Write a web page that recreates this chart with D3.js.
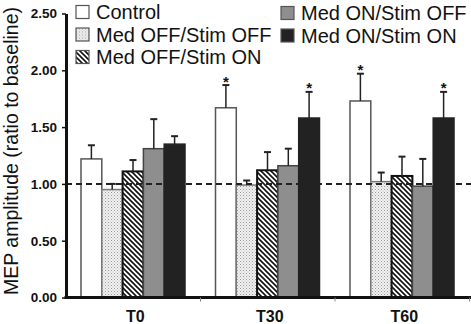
<!DOCTYPE html>
<html lang="en">
<head>
  <meta charset="UTF-8">
  <title>MEP amplitude</title>
  <script src="https://d3js.org/d3.v7.min.js"></script>
  <style>
    body { margin: 0; background: #fff; }
    svg { display: block; font-family: "Liberation Sans", Arial, sans-serif; }
  </style>
</head>
<body>
  <script>
    const categories = ["T0", "T30", "T60"];
    const series = ["Control", "Med OFF/Stim OFF", "Med OFF/Stim ON", "Med ON/Stim OFF", "Med ON/Stim ON"];
    // mean values per series, in category order
    const control      = [1.22, 1.67, 1.73];
    const offOff       = [0.95, 0.99, 1.02];
    const offOn        = [1.11, 1.12, 1.07];
    const onOff        = [1.31, 1.16, 0.98];
    const onOn         = [1.35, 1.58, 1.58];
    // error (upper SEM) per series
    const controlErr   = [0.12, 0.20, 0.24];
    const offOffErr    = [0.05, 0.04, 0.08];
    const offOnErr     = [0.10, 0.16, 0.17];
    const onOffErr     = [0.26, 0.15, 0.24];
    const onOnErr      = [0.07, 0.23, 0.23];
    // significance stars
    const stars = [["T30", "Control"], ["T30", "Med ON/Stim ON"], ["T60", "Control"], ["T60", "Med ON/Stim ON"]];
    const yTicks = [0, 0.5, 1, 1.5, 2, 2.5];
    const baseline = 1.0;

    const values = [control, offOff, offOn, onOff, onOn];
    const errors = [controlErr, offOffErr, offOnErr, onOffErr, onOnErr];
    const rows = [];
    series.forEach((s, i) => categories.forEach((c, j) => {
      rows.push({ cat: c, series: s, value: values[i][j], err: errors[i][j] });
    }));

    const width = 471, height = 324;
    const svg = d3.select("body").append("svg")
      .attr("width", width).attr("height", height);

    const defs = svg.append("defs");
    const dots = defs.append("pattern").attr("id", "dots")
      .attr("patternUnits", "userSpaceOnUse").attr("width", 3).attr("height", 3);
    dots.append("rect").attr("width", 3).attr("height", 3).attr("fill", "#f2f2f2");
    dots.append("rect").attr("width", 1).attr("height", 1).attr("fill", "#9a9a9a");
    dots.append("rect").attr("x", 1.5).attr("y", 1.5).attr("width", 1).attr("height", 1).attr("fill", "#b5b5b5");

    const hatch = defs.append("pattern").attr("id", "hatch")
      .attr("patternUnits", "userSpaceOnUse").attr("width", 5).attr("height", 5);
    hatch.append("rect").attr("width", 5).attr("height", 5).attr("fill", "#fff");
    hatch.append("path").attr("d", "M0,0L5,5M-1,4L1,6M4,-1L6,1")
      .attr("stroke", "#111").attr("stroke-width", 1.6);

    const fills = {
      "Control": "#fff",
      "Med OFF/Stim OFF": "url(#dots)",
      "Med OFF/Stim ON": "url(#hatch)",
      "Med ON/Stim OFF": "#8e8e8e",
      "Med ON/Stim ON": "#222"
    };
    const strokes = {
      "Control": "#555",
      "Med OFF/Stim OFF": "#777",
      "Med OFF/Stim ON": "#111",
      "Med ON/Stim OFF": "#444",
      "Med ON/Stim ON": "#222"
    };

    const x0 = d3.scaleBand().domain(categories).range([66, 469.5]);
    const x1 = d3.scaleBand().domain(series).range([15, x0.bandwidth() - 15.5]);
    const y = d3.scaleLinear().domain([0, 2.5]).range([297.5, 13.5]);

    // bars
    svg.append("g").selectAll("rect")
      .data(rows)
      .join("rect")
      .attr("x", d => x0(d.cat) + x1(d.series))
      .attr("y", d => y(d.value))
      .attr("width", x1.bandwidth())
      .attr("height", d => y(0) - y(d.value))
      .attr("fill", d => fills[d.series])
      .attr("stroke", d => strokes[d.series])
      .attr("stroke-width", d => d.series === "Med OFF/Stim ON" ? 2 : 1.5);

    // error bars
    const eb = svg.append("g").attr("stroke", "#222");
    eb.selectAll("line.v")
      .data(rows)
      .join("line").attr("class", "v")
      .attr("x1", d => x0(d.cat) + x1(d.series) + x1.bandwidth() / 2)
      .attr("x2", d => x0(d.cat) + x1(d.series) + x1.bandwidth() / 2)
      .attr("y1", d => y(d.value))
      .attr("y2", d => y(d.value + d.err))
      .attr("stroke-width", 1.5);
    eb.selectAll("line.cap")
      .data(rows)
      .join("line").attr("class", "cap")
      .attr("x1", d => x0(d.cat) + x1(d.series) + x1.bandwidth() / 2 - 3.5)
      .attr("x2", d => x0(d.cat) + x1(d.series) + x1.bandwidth() / 2 + 3.5)
      .attr("y1", d => y(d.value + d.err))
      .attr("y2", d => y(d.value + d.err))
      .attr("stroke-width", 2);

    // stars
    svg.append("g").selectAll("text")
      .data(stars.map(([c, s]) => rows.find(r => r.cat === c && r.series === s)))
      .join("text")
      .attr("x", d => x0(d.cat) + x1(d.series) + x1.bandwidth() / 2)
      .attr("y", d => y(d.value + d.err) + 1.5)
      .attr("text-anchor", "middle")
      .attr("font-size", 15)
      .attr("font-weight", "bold")
      .attr("fill", "#111")
      .text("*");

    // dashed baseline
    svg.append("line")
      .attr("x1", 66).attr("x2", width)
      .attr("y1", y(baseline)).attr("y2", y(baseline))
      .attr("stroke", "#222").attr("stroke-width", 2)
      .attr("stroke-dasharray", "6,4");

    // y axis
    const yAxis = svg.append("g")
      .attr("transform", "translate(66,0)")
      .call(d3.axisLeft(y).tickValues(yTicks).tickFormat(d3.format(".2f")).tickSize(4).tickSizeOuter(0).tickPadding(5));
    yAxis.select(".domain").attr("stroke", "#111").attr("stroke-width", 3);
    yAxis.selectAll(".tick line").attr("stroke", "#111").attr("stroke-width", 1.5);
    yAxis.selectAll(".tick text")
      .attr("font-family", "'Liberation Sans', Arial, sans-serif")
      .attr("font-size", 13.5).attr("font-weight", "bold").attr("fill", "#111");

    // x axis
    svg.append("line")
      .attr("x1", 64.5).attr("x2", width)
      .attr("y1", y(0)).attr("y2", y(0))
      .attr("stroke", "#111").attr("stroke-width", 3);
    svg.append("g").selectAll("line")
      .data(categories)
      .join("line")
      .attr("x1", d => x0(d) + x0.bandwidth())
      .attr("x2", d => x0(d) + x0.bandwidth())
      .attr("y1", y(0)).attr("y2", y(0) + 4)
      .attr("stroke", "#888").attr("stroke-width", 1);
    svg.append("g").selectAll("text")
      .data(categories)
      .join("text")
      .attr("x", d => x0(d) + x0.bandwidth() / 2 + 2)
      .attr("y", 322)
      .attr("text-anchor", "middle")
      .attr("font-size", 16).attr("font-weight", "bold").attr("fill", "#111")
      .text(d => d);

    // y title
    svg.append("text")
      .attr("transform", "translate(17.5,151) rotate(-90)")
      .attr("text-anchor", "middle")
      .attr("font-size", 19.5).attr("fill", "#111")
      .text("MEP amplitude (ratio to baseline)");

    // legend
    const legendPos = [[76, 12], [76, 34.5], [76, 57], [281, 13], [281, 35.5]];
    const legend = svg.append("g").selectAll("g")
      .data(series)
      .join("g")
      .attr("transform", (d, i) => `translate(${legendPos[i][0]},${legendPos[i][1]})`);
    legend.append("rect")
      .attr("x", 0).attr("y", -6.5).attr("width", 13).attr("height", 13)
      .attr("fill", d => fills[d])
      .attr("stroke", "#555").attr("stroke-width", 1.2);
    legend.append("text")
      .attr("x", 20).attr("y", 7)
      .attr("font-size", 20).attr("fill", "#111")
      .text(d => d);
  </script>
</body>
</html>
